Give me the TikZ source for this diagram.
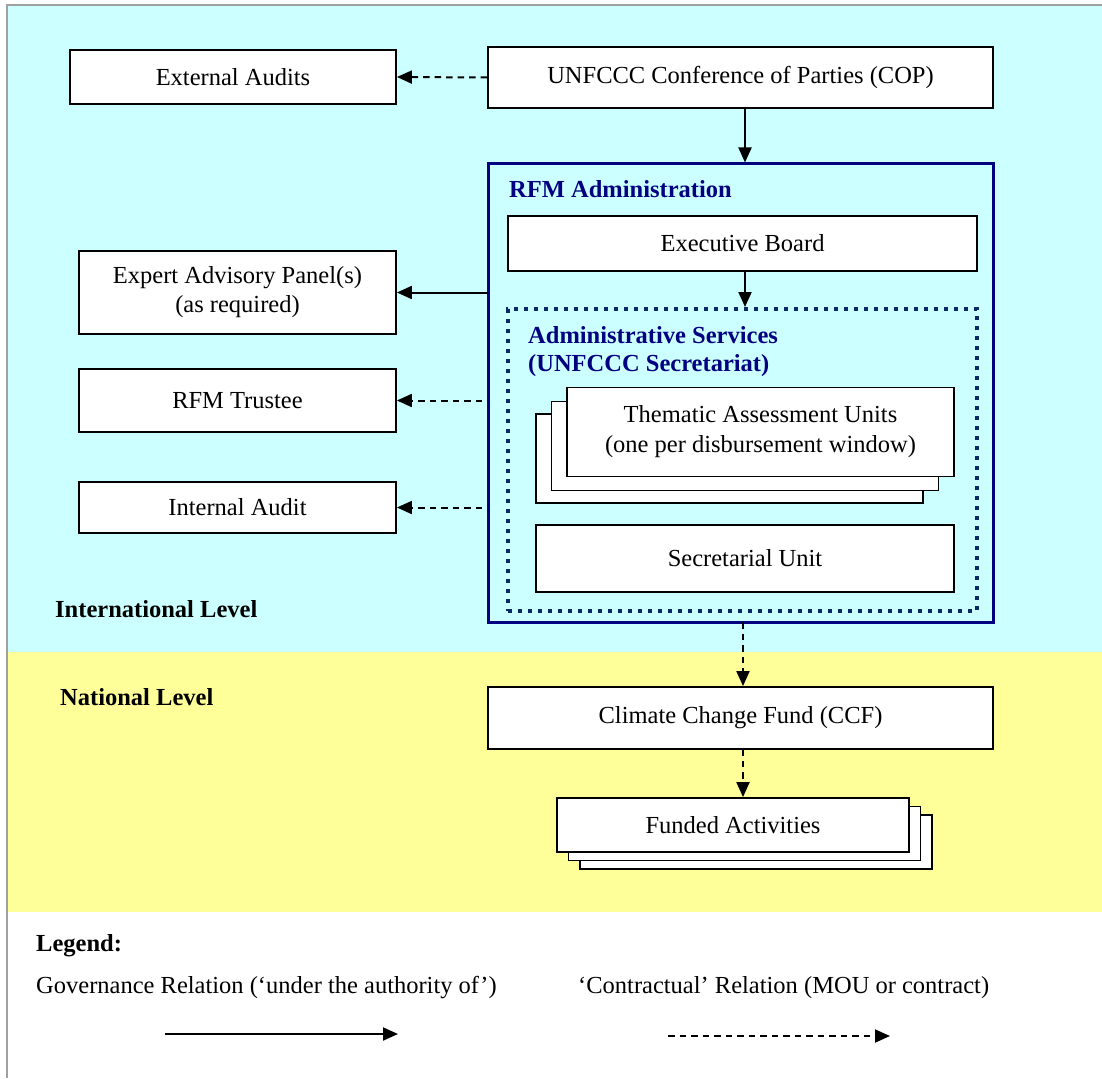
\documentclass[tikz,border=0pt]{standalone}
\usepackage{fontspec}
\setmainfont{Liberation Serif}
\usetikzlibrary{arrows.meta}
\definecolor{bgcyan}{HTML}{CCFFFF}
\definecolor{bgyellow}{HTML}{FFFF99}
\definecolor{frame}{HTML}{A0A0A0}
\definecolor{navyb}{HTML}{000080}
\definecolor{dotnavy}{HTML}{0A2A66}
\tikzset{
  box/.style={draw=black, line width=1.8pt, fill=white, inner sep=2pt, align=center,
    font=\fontsize{24.5}{30}\selectfont},
  gov/.style={line width=2pt, -{Triangle[length=15pt,width=13pt]}},
  con/.style={line width=2pt, dash pattern=on 6.5pt off 5pt, -{Triangle[length=15pt,width=13pt]}},
  lbl/.style={font=\fontsize{24.5}{30}\selectfont, inner sep=0pt, anchor=west},
  hdr/.style={font=\fontsize{24.5}{30}\selectfont\bfseries, inner sep=0pt, anchor=west},
}
\begin{document}
\begin{tikzpicture}[x=1pt,y=-1pt]
\useasboundingbox (0,0) rectangle (1102,1078);
% backgrounds
\fill[bgcyan] (8,5) rectangle (1102,652);
\fill[bgyellow] (8,652) rectangle (1102,912);
\draw[frame, line width=1.5pt] (1102,5) -- (7,5) -- (7,1078);

% top
\node[box, minimum width=326pt, minimum height=54pt] (ext) at (233,77) {External Audits};
\node[box, minimum width=505pt, minimum height=61pt] (cop) at (740.5,77.5) {UNFCCC Conference of Parties (COP)};

% RFM administration frame
\node[draw=navyb, line width=3pt, minimum width=505pt, minimum height=458pt, inner sep=0pt] (rfm) at (740.5,393) {};
\node[hdr, text=navyb] (rfmt) at (509,189) {RFM Administration};
\node[box, minimum width=469pt, minimum height=55pt] (eb) at (742.5,243.5) {Executive Board};
\node[draw=dotnavy, line width=4pt, dash pattern=on 4pt off 6pt, minimum width=469pt, minimum height=302pt, inner sep=0pt] (adm) at (742.5,460) {};
\node[hdr, text=navyb, align=left, font=\fontsize{24.5}{28}\selectfont\bfseries] (admt) at (528,352) {Administrative Services\\(UNFCCC Secretariat)};

% thematic stack
\node[box, minimum width=387pt, minimum height=89pt] (th3) at (729.5,458.5) {};
\node[box, minimum width=387pt, minimum height=89pt] (th2) at (745,446) {};
\node[box, minimum width=387pt, minimum height=89pt, font=\fontsize{24.5}{30}\selectfont] (th) at (760.5,432) {Thematic Assessment Units\\(one per disbursement window)};
\node[box, minimum width=418pt, minimum height=67pt] (sec) at (745,558.5) {Secretarial Unit};

% left boxes
\node[box, minimum width=317pt, minimum height=83pt, font=\fontsize{24.5}{29}\selectfont] (eap) at (237.5,292.5) {Expert Advisory Panel(s)\\(as required)};
\node[box, minimum width=317pt, minimum height=63pt] (tru) at (237.5,400.5) {RFM Trustee};
\node[box, minimum width=317pt, minimum height=51pt] (ia) at (237.5,507.5) {Internal Audit};

% level labels
\node[hdr] (intl) at (55,609) {International Level};
\node[hdr] (natl) at (60,697) {National Level};

% national
\node[box, minimum width=505pt, minimum height=62pt] (ccf) at (740.5,718) {Climate Change Fund (CCF)};
\node[box, minimum width=352pt, minimum height=54pt] (fa3) at (756,842) {};
\node[box, minimum width=352pt, minimum height=54pt] (fa2) at (744.5,833.5) {};
\node[box, minimum width=352pt, minimum height=54pt] (fa) at (733,825) {Funded Activities};

% connectors
\draw[con] (cop.west) -- (ext.east);
\coordinate (c1) at (745,108);
\draw[gov] (c1) -- (c1 |- rfm.north);
\coordinate (c2) at (745,271);
\draw[gov] (c2) -- (c2 |- adm.north);
\draw[gov] (rfm.west |- eap.east) -- (eap.east);
\coordinate (c3) at (482,400.5);
\draw[con] (c3) -- (tru.east);
\coordinate (c4) at (482,507.5);
\draw[con] (c4) -- (ia.east);
\coordinate (c5) at (743,622);
\draw[con] (c5) -- (c5 |- ccf.north);
\coordinate (c6) at (743,749);
\draw[con] (c6) -- (c6 |- fa.north);

% legend
\node[hdr] (leg) at (36,946) {Legend:};
\node[lbl] (govt) at (36,988) {Governance Relation (‘under the authority of’)};
\node[lbl] (cont) at (578,988) {‘Contractual’ Relation (MOU or contract)};
\coordinate (l1) at (165,1034);
\coordinate (l2) at (398,1034);
\draw[gov] (l1) -- (l2);
\coordinate (l3) at (668,1036);
\coordinate (l4) at (890,1036);
\draw[con] (l3) -- (l4);
\end{tikzpicture}
\end{document}
